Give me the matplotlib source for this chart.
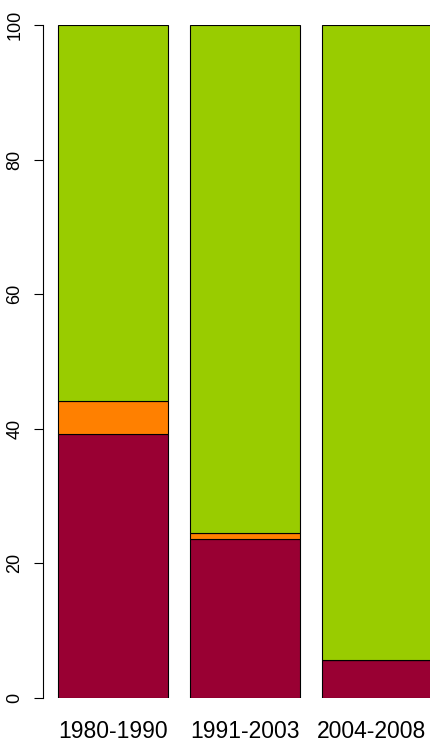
import matplotlib
matplotlib.use("Agg")
import matplotlib.pyplot as plt
import matplotlib.transforms as mtransforms
import numpy as np

categories = ["1980-1990", "1991-2003", "2004-2008"]
seg_red = [39.2, 23.6, 5.6]
seg_orange = [4.9, 0.9, 0.0]
seg_green = [55.9, 75.5, 94.4]
colors = ["#990033", "#FF8000", "#99CC00"]
yticks = [0, 20, 40, 60, 80, 100]

W, H = 430, 743
fig = plt.figure(figsize=(W / 100, H / 100), dpi=100)
# plot region: x from 43px (xlim left) to 447px, y from 0 at 698px to 100 at 25px
left = 43 / W
width = (447 - 43) / W
bottom = (H - 698) / H
height = (698 - 25) / H
ax = fig.add_axes([left, bottom, width, height])

x = 0.7 + 1.2 * np.arange(len(categories))
b = np.zeros(len(categories))
for seg, c in zip([seg_red, seg_orange, seg_green], colors):
    seg = np.array(seg)
    ax.bar(x, seg, width=1.0, bottom=b, color=c, edgecolor="black", linewidth=0.8)
    b += seg

ax.set_xlim(0.064, 3.736)
ax.set_ylim(0, 100)
for s in ["top", "right", "bottom"]:
    ax.spines[s].set_visible(False)
ax.spines["left"].set_linewidth(0.8)
ax.set_yticks(yticks)
ax.set_yticklabels([str(t) for t in yticks], rotation=90, va="center",
                   fontsize=13, family="Liberation Sans")
ax.tick_params(axis="y", length=6.5, width=0.8, pad=7.5)
ax.set_xticks(x)
labels = ax.set_xticklabels(categories, fontsize=16.5, family="Liberation Sans")
ax.tick_params(axis="x", length=0, pad=16)
# keep last label inside the canvas (as in the reference)
labels[-1].set_transform(labels[-1].get_transform() +
                         mtransforms.ScaledTranslation(-6 / 100, 0, fig.dpi_scale_trans))

fig.savefig("out.png", dpi=100)
